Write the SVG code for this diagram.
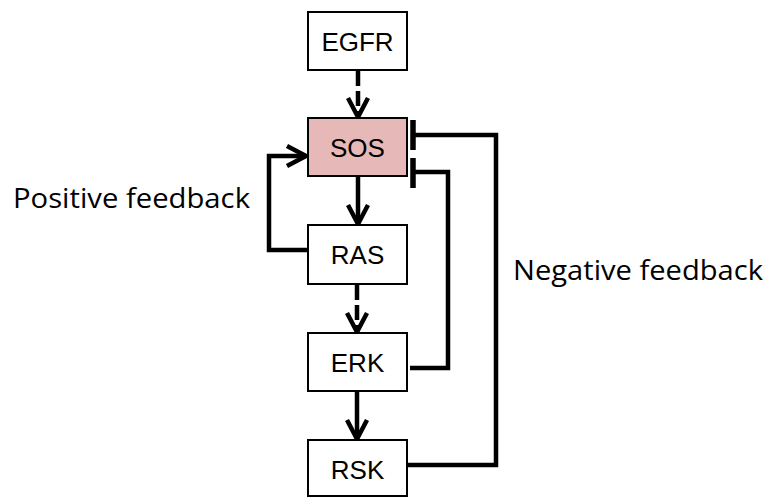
<svg xmlns="http://www.w3.org/2000/svg" width="771" height="498" viewBox="0 0 771 498">
<defs>
<style>
.box{fill:#ffffff;stroke:#000;stroke-width:2}
.sos{fill:#e6b9b8;stroke:#000;stroke-width:2}
.lbl{font-family:"Liberation Sans",Arial,sans-serif;font-size:26px;fill:#000;text-anchor:middle}
.note{font-family:"Open Sans","Noto Sans",sans-serif;font-size:27px;fill:#000}
.ln{fill:none;stroke:#000;stroke-width:4.5}
.bar{stroke:#000;stroke-width:5.5}
.dash{stroke-dasharray:15 5}
</style>
<marker id="arr" viewBox="0 0 24 24" refX="22" refY="12" markerWidth="24" markerHeight="24" markerUnits="userSpaceOnUse" orient="auto">
<path d="M3,2 L22,12 L3,22" fill="none" stroke="#000" stroke-width="4.5"/>
</marker>
</defs>
<rect width="771" height="498" fill="#fff"/>
<g id="connectors">
<path class="ln dash" d="M358,71 V117" marker-end="url(#arr)"/>
<path class="ln" d="M358,177 V224" marker-end="url(#arr)"/>
<path class="ln dash" d="M357,285 V332" marker-end="url(#arr)"/>
<path class="ln" d="M357,392 V439" marker-end="url(#arr)"/>
<path class="ln" d="M307,250 H269 V156 H306" marker-end="url(#arr)"/>
<path class="ln" d="M410,368 H448 V172 H413"/>
<line class="bar" x1="413" y1="158" x2="413" y2="188"/>
<path class="ln" d="M407,465 H496 V135 H413"/>
<line class="bar" x1="413" y1="120" x2="413" y2="150"/>
</g>
<g id="egfr"><rect class="box" x="308" y="12" width="99" height="58"/><text class="lbl" x="357.5" y="51">EGFR</text></g>
<g id="sos"><rect class="sos" x="308" y="118" width="99" height="58"/><text class="lbl" x="357.5" y="157">SOS</text></g>
<g id="ras"><rect class="box" x="308" y="225" width="99" height="59"/><text class="lbl" x="357.5" y="264">RAS</text></g>
<g id="erk"><rect class="box" x="308" y="333" width="99" height="58"/><text class="lbl" x="357.5" y="372">ERK</text></g>
<g id="rsk"><rect class="box" x="308" y="440" width="99" height="56"/><text class="lbl" x="357.5" y="479">RSK</text></g>
<g id="labels">
<text class="note" x="13" y="208" textLength="237" lengthAdjust="spacingAndGlyphs">Positive feedback</text>
<text class="note" x="513" y="280" textLength="250" lengthAdjust="spacingAndGlyphs">Negative feedback</text>
</g>
</svg>
